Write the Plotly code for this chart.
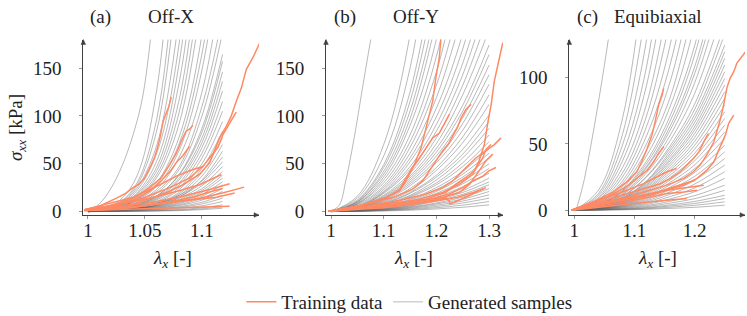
import plotly.graph_objects as go

# ---------------- data ----------------
# Panel (a) Off-X : generated samples sampled on a lambda grid (sigma in kPa)
GRID_A = [1.0, 1.02, 1.04, 1.06, 1.08, 1.10, 1.118]
GRAY_A = [
    [0, 5, 30, 125, 410],
    [0, 4.5, 24, 95, 310],
    [0, 4, 22, 83, 265],
    [0, 3.5, 20, 68, 205],
    [0, 3, 18, 60, 176, 450],
    [0, 3, 16, 52, 155, 396],
    [0, 3, 15, 46, 135, 330],
    [0, 2.5, 14, 42, 117, 290],
    [0, 2.5, 13, 38, 104, 255],
    [0, 2, 12, 35, 92, 225],
    [0, 2, 11, 30, 78, 185, 380],
    [0, 2, 10.5, 28, 71, 165, 320],
    [0, 2, 10, 26, 64, 148, 290],
    [0, 1.8, 9, 23, 57, 125, 245],
    [0, 1.6, 8, 21, 47, 110, 205],
    [0, 1.5, 7.5, 19, 44, 100, 187],
    [0, 1.3, 6.6, 16, 39, 87, 164],
    [0, 1.3, 6.3, 16, 38, 83, 157],
    [0, 1.2, 5.8, 15, 35, 77, 146],
    [0, 1.1, 5.4, 14, 33, 72, 136],
    [0, 1.0, 5.0, 13, 30, 67, 126],
    [0, 0.9, 4.6, 12, 28, 61, 115],
    [0, 0.8, 4.2, 10.5, 25, 56, 105],
    [0, 0.8, 3.8, 9.4, 23, 50, 94],
    [0, 0.7, 3.4, 8.4, 20, 45, 84],
    [0, 0.6, 3.1, 7.7, 18.5, 41, 77],
    [0, 0.6, 2.8, 7, 17, 37, 70],
    [0, 0.5, 2.5, 6.3, 15, 33, 63],
    [0, 1.1, 4, 8.6, 17, 32, 57],
    [0, 1.0, 3.6, 7.8, 15.6, 30, 52],
    [0, 0.9, 3.3, 7, 14, 27, 47],
    [0, 0.8, 2.9, 6.3, 12.6, 24, 42],
    [0, 0.8, 2.7, 5.7, 11.4, 22, 38],
    [0, 0.7, 2.5, 5.2, 10.5, 20, 35],
    [0, 0.6, 2.2, 4.7, 9.3, 18, 31],
    [0, 0.6, 2.0, 4.2, 8.4, 16, 28],
    [0, 0.5, 1.7, 3.6, 7.2, 14, 24],
    [0, 0.4, 1.5, 3.2, 6.3, 12, 21],
    [0, 0.3, 1.2, 2.6, 5.1, 9.7, 17],
    [0, 0.3, 1.0, 2.1, 4.2, 8, 14],
    [0, 0.2, 0.7, 1.6, 3.2, 6, 10.5],
    [0, 0.15, 0.5, 1.0, 2.1, 4, 7],
    [0, 0.1, 0.35, 0.75, 1.5, 2.9, 5],
    [0, 0.1, 0.25, 0.5, 1.0, 2.0, 3.5],
]
LONE_A_X = [1.0, 1.01, 1.02, 1.03, 1.04, 1.048, 1.055]
LONE_A_Y = [0, 8, 24, 48, 82, 120, 182]

TRAIN_A_X = [
    [0.997, 1.01, 1.025, 1.033, 1.0395, 1.045, 1.0497, 1.053, 1.0556, 1.0585, 1.061, 1.0635, 1.066, 1.069, 1.071, 1.073],
    [0.997, 1.015, 1.03, 1.04, 1.054, 1.064, 1.0716, 1.0775, 1.082, 1.086, 1.089, 1.092],
    [0.997, 1.02, 1.04, 1.055, 1.065, 1.072, 1.078, 1.083, 1.086, 1.089],
    [0.997, 1.01, 1.0395, 1.0687, 1.0833, 1.098, 1.1067, 1.111, 1.1155, 1.1213, 1.1257, 1.130, 1.1345, 1.1389, 1.1447, 1.1506],
    [0.997, 1.019, 1.048, 1.0716, 1.089, 1.101, 1.108, 1.114, 1.1184, 1.1243, 1.130],
    [0.997, 1.01, 1.054, 1.0833, 1.1067, 1.1243],
    [0.997, 1.04, 1.069, 1.098, 1.118, 1.137],
    [0.997, 1.054, 1.083, 1.1126, 1.1287],
    [0.997, 1.025, 1.083, 1.1243],
    [0.997, 1.025, 1.054, 1.0775, 1.098, 1.1096, 1.117],
    [0.997, 1.03, 1.05, 1.065, 1.08, 1.095, 1.105, 1.118],
    [0.997, 1.04, 1.063, 1.0775, 1.092, 1.101],
]
TRAIN_A_Y = [
    [2, 5.6, 14, 19, 25, 29, 35, 42, 49, 57, 66.6, 79, 94.5, 104, 110, 119.7],
    [1.5, 5, 10, 14, 25, 35, 49, 61, 74, 84, 86, 90],
    [1.5, 5, 12, 22, 33, 42, 52, 58, 63, 68],
    [2, 2.5, 7.3, 19.6, 28, 39, 51, 63, 77, 89, 100, 115, 129, 148.6, 161, 176],
    [2, 5.6, 14, 25, 35, 47.5, 58, 67, 80.5, 93, 104],
    [1.5, 4, 9, 16, 23, 29],
    [1, 4.5, 9, 14, 19.5, 25.5],
    [1, 6.8, 11, 15, 19.5],
    [1, 2, 3.9, 5.6],
    [2, 7, 14, 21, 28, 35, 38.7],
    [1, 3, 6, 9, 12, 16, 20, 24],
    [2, 15, 28, 37, 44, 47],
]

# Panel (b) Off-Y
GRID_B = [1.0, 1.05, 1.10, 1.15, 1.20, 1.25, 1.30]
GRAY_B = [
    [0, 16, 70, 185, 410],
    [0, 14, 58, 150, 330],
    [0, 12, 49, 125, 265],
    [0, 11, 46, 115, 240],
    [0, 10, 42, 105, 215],
    [0, 10, 39, 97, 200],
    [0, 9, 36, 90, 180, 340],
    [0, 8, 33, 80, 162, 295],
    [0, 8, 30, 73, 146, 265],
    [0, 7, 27, 67, 132, 230],
    [0, 6, 25, 61, 119, 208],
    [0, 5, 23, 56, 108, 186, 305],
    [0, 5, 21, 52, 99, 170, 280],
    [0, 4, 20, 47, 91, 155, 250],
    [0, 4, 19, 44, 84, 143, 228],
    [0, 4, 17, 40, 77, 132, 208],
    [0, 3.5, 16, 37, 71, 122, 190],
    [0, 3.8, 14.8, 35, 66, 111, 174],
    [0, 3.6, 14, 33, 62, 105, 164],
    [0, 3.4, 13, 31, 58, 98, 153],
    [0, 3.1, 12.2, 29, 54, 92, 143],
    [0, 2.9, 11.3, 27, 51, 85, 133],
    [0, 2.7, 10.4, 24, 46, 78, 122],
    [0, 2.5, 9.5, 22, 43, 72, 112],
    [0, 2.2, 8.6, 20, 38, 65, 101],
    [0, 2.1, 8, 19, 36, 60, 94],
    [0, 1.9, 7.4, 17, 33, 56, 87],
    [0, 1.8, 6.8, 16, 30, 51, 80],
    [0, 1.6, 6.2, 15, 28, 47, 73],
    [0, 1.5, 5.6, 13, 25, 42, 66],
    [0, 1.3, 5.2, 12, 23, 39, 61],
    [0, 1.2, 4.8, 11, 21, 36, 56],
    [0, 1.1, 4.3, 10, 19, 32, 50],
    [0, 1.0, 3.8, 9, 17, 29, 45],
    [0, 0.9, 3.4, 8, 15, 26, 40],
    [0, 0.8, 3.0, 7, 13, 22, 35],
    [0, 0.7, 2.6, 6.2, 12, 20, 31],
    [0, 0.6, 2.4, 5.6, 11, 18, 28],
    [0, 0.5, 2.0, 4.8, 9, 15, 24],
    [0, 0.5, 1.8, 4.2, 8, 13, 21],
    [0, 0.4, 1.5, 3.5, 6.7, 11, 17.5],
    [0, 0.3, 1.2, 2.8, 5.3, 9, 14],
    [0, 0.3, 1.0, 2.2, 4, 6.7, 10.5],
    [0, 0.2, 0.6, 1.4, 2.7, 4.5, 7],
]
LONE_B_X = [1.0, 1.016, 1.028, 1.044, 1.06, 1.076]
LONE_B_Y = [0, 7, 32, 77, 130, 182]

TRAIN_B_X = [
    [0.995, 1.066, 1.104, 1.13, 1.142, 1.158, 1.171, 1.183, 1.193, 1.199, 1.2056, 1.2087],
    [0.995, 1.104, 1.168, 1.212, 1.2435, 1.269, 1.281, 1.291, 1.297, 1.304, 1.31, 1.319, 1.326],
    [0.995, 1.054, 1.117, 1.155, 1.174, 1.187, 1.199, 1.212, 1.222, 1.231, 1.24, 1.247, 1.256, 1.2657],
    [0.995, 1.054, 1.104, 1.13, 1.142, 1.155, 1.168, 1.18, 1.193, 1.2056, 1.215, 1.2245],
    [0.995, 1.054, 1.13, 1.18, 1.212, 1.231, 1.25, 1.2625, 1.275, 1.288, 1.30, 1.31, 1.3226],
    [0.995, 1.15, 1.19, 1.2245, 1.25, 1.269, 1.288, 1.30, 1.313],
    [0.995, 1.18, 1.218, 1.237, 1.256, 1.272, 1.288, 1.294, 1.3036],
    [0.995, 1.212, 1.244, 1.263, 1.281, 1.294, 1.307],
    [0.995, 1.09, 1.15, 1.2, 1.218, 1.224, 1.226, 1.26, 1.29],
    [0.995, 1.1, 1.16, 1.2, 1.24, 1.27, 1.294],
]
TRAIN_B_Y = [
    [0.4, 7.3, 14, 23, 35, 49, 66.6, 94.5, 115.6, 140, 161, 182],
    [0.4, 6, 13, 19.9, 28.5, 39, 53, 70, 91, 112, 136.5, 161, 176.5],
    [0.4, 6, 14.6, 23.4, 32, 42.5, 53, 63.6, 70, 79.8, 88, 98, 106.6, 112],
    [0.4, 6, 14.6, 21.5, 32, 45.7, 56, 66.6, 77, 82, 92.5, 101.5],
    [0.4, 4.5, 11.5, 18.4, 25, 32, 42.5, 49, 56, 61.4, 66.6, 70, 77],
    [0.4, 8, 13, 18.4, 25, 32, 37, 42.5, 46],
    [0.4, 13, 20, 28.6, 35.6, 42.5, 56, 65, 70],
    [0.4, 14.6, 20, 28.6, 42.5, 53, 60],
    [0.4, 5, 9, 12, 14, 11, 8, 16, 24],
    [0.4, 4, 8, 11, 15, 20, 25],
]

# Panel (c) Equibiaxial
GRID_C = [1.0, 1.04, 1.08, 1.12, 1.16, 1.20, 1.25]
GRAY_C = [
    [0, 15, 69, 193],
    [0, 12.5, 57, 155],
    [0, 11, 49, 128, 285],
    [0, 9.5, 42, 108, 240],
    [0, 8.5, 37, 94, 200],
    [0, 7.5, 32, 80, 167],
    [0, 7, 28, 71, 145],
    [0, 6, 25, 63, 126, 235],
    [0, 5.5, 22, 56, 111, 200],
    [0, 5, 20, 50, 98, 177],
    [0, 4.5, 18, 45, 86, 158],
    [0, 4, 16.5, 41, 79, 140, 258],
    [0, 4, 15, 37, 72, 124, 228],
    [0, 3.5, 14.5, 35, 68, 117, 213],
    [0, 3.4, 14, 33, 64, 108, 195],
    [0, 3.3, 13, 32, 61, 103, 182],
    [0, 3.2, 12, 30, 57, 96, 170],
    [0, 3, 11.5, 28, 53, 88, 155],
    [0, 2.8, 10.5, 25.5, 49, 80, 140],
    [0, 2.6, 10, 25, 47, 76, 133],
    [0, 2.5, 9.3, 22, 45, 72, 124.5],
    [0, 2.4, 9, 21.5, 43, 69, 119.5],
    [0, 2.3, 8.6, 20.6, 41, 66, 114.5],
    [0, 2.2, 8.2, 19.7, 39, 63, 109.5],
    [0, 2.1, 7.8, 18.8, 37.6, 60.5, 104.4],
    [0, 2.0, 7.5, 17.9, 35.8, 57.7, 99.4],
    [0, 1.9, 7.1, 17, 34, 54.8, 94.4],
    [0, 1.8, 6.7, 16, 32, 51.8, 89.3],
    [0, 1.7, 6.3, 15.2, 30.3, 48.9, 84.3],
    [0, 1.6, 5.9, 14.3, 28.5, 46, 79.3],
    [0, 1.5, 5.6, 13.4, 26.7, 43, 74.2],
    [0, 1.4, 5.2, 12.5, 24.9, 40, 69.2],
    [0, 1.3, 4.8, 11.6, 23, 37.2, 64.2],
    [0, 1.2, 4.4, 10.6, 21.2, 34.2, 59],
    [0, 1.1, 4.0, 9.7, 19.4, 31.3, 54],
    [0, 1.0, 3.7, 8.8, 17.6, 28.4, 49],
    [0, 0.9, 3.3, 7.9, 15.8, 25.5, 44],
    [0, 0.8, 2.9, 7.0, 14, 22.6, 39],
    [0, 0.7, 2.6, 6.1, 12.2, 19.7, 34],
    [0, 0.6, 2.2, 5.2, 10.4, 16.8, 29],
    [0, 0.5, 1.8, 4.3, 8.6, 13.9, 24],
    [0, 0.4, 1.4, 3.4, 6.8, 11, 18.9],
    [0, 0.3, 1.1, 2.7, 5.4, 8.7, 15],
    [0, 0.2, 0.85, 2.0, 4.1, 6.6, 11.3],
    [0, 0.2, 0.7, 1.6, 3.2, 5.1, 8.8],
    [0, 0.13, 0.5, 1.1, 2.3, 3.7, 6.3],
    [0, 0.1, 0.3, 0.7, 1.4, 2.2, 3.8],
]
LONE_C_X = [1.003, 1.015, 1.03, 1.045, 1.057]
LONE_C_Y = [0, 20, 55, 95, 130]

TRAIN_C_X = [
    [0.995, 1.032, 1.065, 1.0875, 1.104, 1.112, 1.121, 1.129, 1.133, 1.137, 1.140, 1.146, 1.1485],
    [0.995, 1.054, 1.082, 1.104, 1.121, 1.132, 1.14, 1.1485],
    [0.995, 1.043, 1.0875, 1.126, 1.154, 1.182, 1.198, 1.209, 1.22, 1.232, 1.237, 1.243, 1.248, 1.251, 1.254, 1.259, 1.265, 1.270, 1.279, 1.287],
    [0.995, 1.0875, 1.143, 1.182, 1.204, 1.22, 1.232, 1.24, 1.246, 1.251, 1.2565, 1.265],
    [0.995, 1.032, 1.076, 1.115, 1.143, 1.16, 1.176, 1.187, 1.198, 1.207, 1.212, 1.218, 1.223],
    [0.995, 1.071, 1.126, 1.154, 1.176, 1.198, 1.215],
    [0.995, 1.071, 1.126, 1.154, 1.182, 1.204],
    [0.995, 1.043, 1.099, 1.154, 1.187],
    [0.995, 1.043, 1.0875, 1.115, 1.137, 1.154, 1.17],
    [0.995, 1.06, 1.1, 1.14, 1.17, 1.201],
]
TRAIN_C_Y = [
    [0, 6.3, 13.8, 21.4, 29, 36.5, 46.5, 56.6, 64, 71.7, 79, 86.8, 91.8],
    [0, 10, 16.4, 24, 30, 36.5, 42.8, 47.8],
    [0, 5, 10, 15, 18.9, 24, 29, 34, 41.5, 51.6, 59, 69, 79, 86.8, 93, 99.4, 104.4, 110.7, 115.7, 120.8],
    [0, 8.8, 13.8, 18.9, 24, 30, 36.5, 45.3, 51.6, 56.6, 65.4, 71.7],
    [0, 5, 11.3, 16.4, 20, 24, 29, 34, 39, 44, 49, 54, 57.9],
    [0, 6.3, 11.3, 15, 16.4, 17.6, 18.9],
    [0, 5, 10, 12.6, 13.8, 15],
    [0, 2.5, 5, 7.5, 8.8],
    [0, 7.5, 15, 20, 25, 29, 31.4],
    [0, 6, 10, 14, 18, 22.6],
]

TITLES = [("(a)", "Off-X"), ("(b)", "Off-Y"), ("(c)", "Equibiaxial")]
XTICKS = [[1, 1.05, 1.1], [1, 1.1, 1.2, 1.3], [1, 1.1, 1.2]]
XTICKTEXT = [["1", "1.05", "1.1"], ["1", "1.1", "1.2", "1.3"], ["1", "1.1", "1.2"]]
YTICKS = [[0, 50, 100, 150], [0, 50, 100, 150], [0, 50, 100]]

# ---------------- style / layout ----------------
W, H = 747, 316
FONT = '"Liberation Serif", "DejaVu Serif", serif'
FS = 19
TXT = "#222"
GRAY = "rgba(100,100,100,0.45)"
ORANGE = "rgb(255,137,100)"
AXC = "#404040"

# pixel geometry of the three axes boxes
XPIX = [(83.3, 259.0), (326.0, 503.0), (569.3, 745.0)]
Y_BOTTOM, Y_TOP = 215.0, 39.5
XRANGES = [(0.9959, 1.1500), (0.9905, 1.3264), (0.9917, 1.2837)]
YRANGES = [(-3.6, 179.8), (-3.6, 179.8), (-3.6, 128.7)]

fig = go.Figure()

panels = [
    (GRID_A, GRAY_A, LONE_A_X, LONE_A_Y, TRAIN_A_X, TRAIN_A_Y),
    (GRID_B, GRAY_B, LONE_B_X, LONE_B_Y, TRAIN_B_X, TRAIN_B_Y),
    (GRID_C, GRAY_C, LONE_C_X, LONE_C_Y, TRAIN_C_X, TRAIN_C_Y),
]

first_gray = True
for i, (grid, gray, lx, ly, tx, ty) in enumerate(panels):
    xa = "x" if i == 0 else f"x{i+1}"
    ya = "y" if i == 0 else f"y{i+1}"
    curves = [(grid[:len(r)], r) for r in gray] + [(lx, ly)]
    for xs, ys in curves:
        fig.add_trace(go.Scatter(
            x=xs, y=ys, mode="lines", xaxis=xa, yaxis=ya,
            line=dict(color=GRAY, width=1, shape="spline", smoothing=1.0),
            name="Generated samples", legendgroup="gen", legendrank=2,
            showlegend=first_gray, hoverinfo="skip"))
        first_gray = False

first_orange = True
for i, (grid, gray, lx, ly, tx, ty) in enumerate(panels):
    xa = "x" if i == 0 else f"x{i+1}"
    ya = "y" if i == 0 else f"y{i+1}"
    for xs, ys in zip(tx, ty):
        fig.add_trace(go.Scatter(
            x=xs, y=ys, mode="lines", xaxis=xa, yaxis=ya,
            line=dict(color=ORANGE, width=1.5),
            name="Training data", legendgroup="train", legendrank=1,
            showlegend=first_orange, hoverinfo="skip"))
        first_orange = False

ydom = [1 - Y_BOTTOM / H, 1 - Y_TOP / H]
layout = dict(
    width=W, height=H, margin=dict(l=0, r=0, t=0, b=0, autoexpand=False),
    paper_bgcolor="white", plot_bgcolor="white",
    font=dict(family=FONT, size=FS, color=TXT),
    showlegend=True,
    legend=dict(orientation="h", x=0.548, xanchor="center", y=1 - 302 / H, yanchor="middle",
                font=dict(family=FONT, size=FS, color=TXT), itemwidth=30,
                bgcolor="rgba(0,0,0,0)", traceorder="normal"),
)

def P(px, py):
    return px / W, 1 - py / H

annotations = []
shapes = []
for i in range(3):
    sfx = "" if i == 0 else str(i + 1)
    x0, x1 = XPIX[i]
    layout["xaxis" + sfx] = dict(
        domain=[x0 / W, x1 / W], range=list(XRANGES[i]), anchor="y" + sfx,
        showline=True, linecolor=AXC, linewidth=1, showgrid=False, zeroline=False,
        ticks="outside", ticklen=3, tickcolor="#999", tickwidth=1,
        tickvals=XTICKS[i], ticktext=XTICKTEXT[i], ticklabelstandoff=-5,
        tickfont=dict(family=FONT, size=FS, color=TXT))
    layout["yaxis" + sfx] = dict(
        domain=ydom, range=list(YRANGES[i]), anchor="x" + sfx,
        showline=True, linecolor=AXC, linewidth=1, showgrid=False, zeroline=False,
        ticks="outside", ticklen=3, tickcolor="#999", tickwidth=1,
        tickvals=YTICKS[i], ticklabelstandoff=14,
        tickfont=dict(family=FONT, size=FS, color=TXT))
    # arrowheads as small filled triangles
    ax1, ay1 = P(x1, Y_BOTTOM)
    bx, by_u = P(x1 - 5, Y_BOTTOM - 2.3)
    _, by_d = P(x1 - 5, Y_BOTTOM + 2.3)
    shapes.append(dict(type="path", xref="paper", yref="paper",
                       path=f"M {ax1},{ay1} L {bx},{by_u} L {bx},{by_d} Z",
                       fillcolor=AXC, line=dict(color=AXC, width=0.5)))
    tx_, ty_ = P(x0, Y_TOP)
    lx_, ly_ = P(x0 - 2.3, Y_TOP + 5)
    rx_, _ = P(x0 + 2.3, Y_TOP + 5)
    shapes.append(dict(type="path", xref="paper", yref="paper",
                       path=f"M {tx_},{ty_} L {lx_},{ly_} L {rx_},{ly_} Z",
                       fillcolor=AXC, line=dict(color=AXC, width=0.5)))

# titles
TITLE_POS = [(100.5, 170.5), (345.0, 415.5), (587.5, 658.0)]
for (lab, name), (xl, xn) in zip(TITLES, TITLE_POS):
    for t, xc in ((lab, xl), (name, xn)):
        annotations.append(dict(x=xc / W, y=1 - 17 / H, xref="paper", yref="paper", text=t,
                                showarrow=False, xanchor="center", yanchor="middle",
                                font=dict(family=FONT, size=FS, color=TXT)))

# axis titles
for xc in (172.0, 413.0, 657.0):
    annotations.append(dict(x=xc / W, y=1 - 259 / H, xref="paper", yref="paper",
                            text="<i>λ</i><sub><i>x</i></sub> [-]", showarrow=False,
                            xanchor="center", yanchor="middle",
                            font=dict(family=FONT, size=FS, color=TXT)))
annotations.append(dict(x=17 / W, y=1 - 128 / H, xref="paper", yref="paper",
                        text="<i>σ</i><sub><i>xx</i></sub> [kPa]", showarrow=False, textangle=-90,
                        xanchor="center", yanchor="middle",
                        font=dict(family=FONT, size=FS, color=TXT)))
layout["annotations"] = annotations
layout["shapes"] = shapes
fig.update_layout(**layout)
fig.write_html("out.html", config={"displayModeBar": False},
               post_script="document.body.style.margin='0';document.body.style.padding='0';")
